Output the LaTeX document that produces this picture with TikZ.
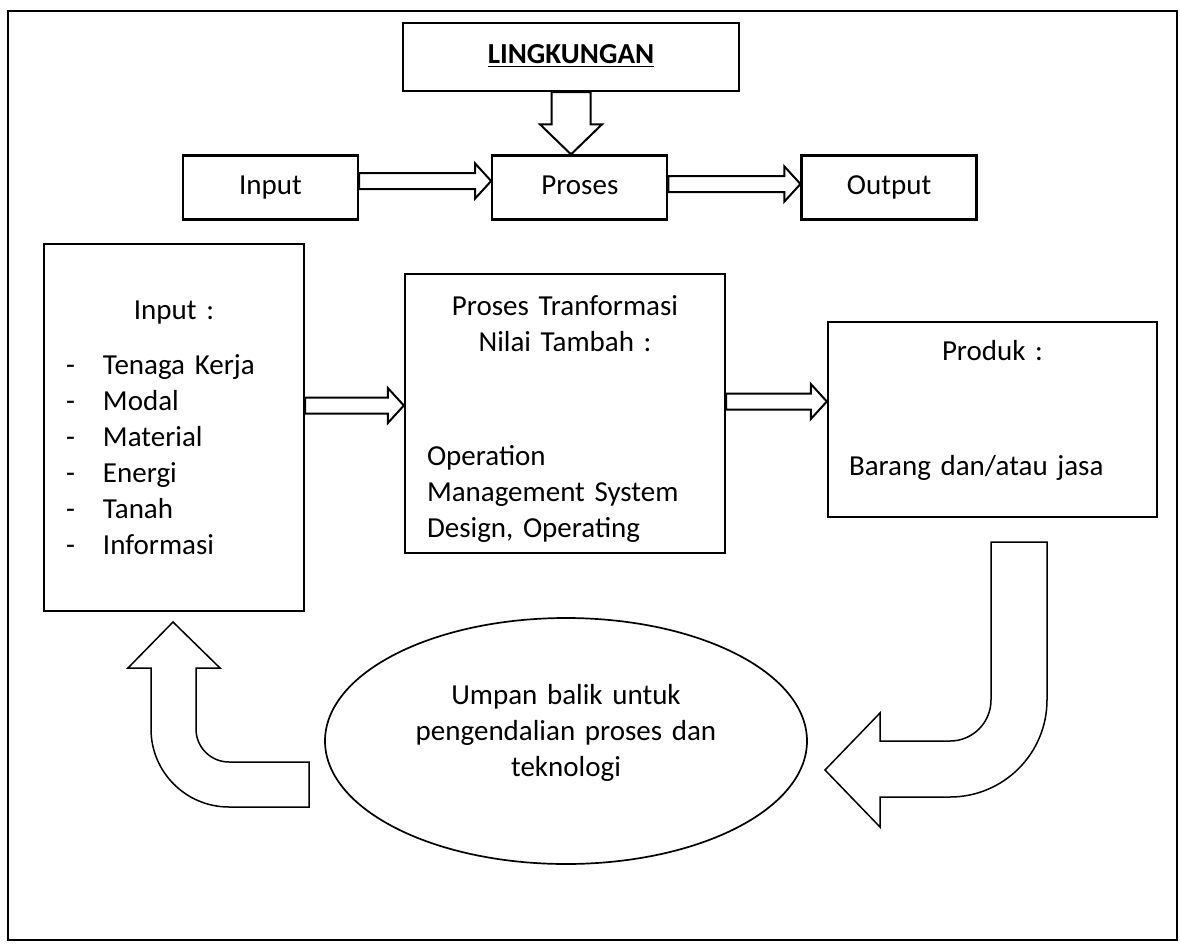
\documentclass[tikz,border=0pt]{standalone}
\usepackage{fontspec}
\setmainfont{Carlito}
\usepackage{tikz}
\usetikzlibrary{shapes,arrows,positioning,calc}

\newcommand{\hollowarrow}[3]{%
  \coordinate (ha-tail) at (#1.east |- 0,#3);
  \coordinate (ha-tip) at (#2.west |- 0,#3);
  \draw[hollow] ($(ha-tail)+(0,-8)$) -- ($(ha-tip)+(-16,-8)$) -- ($(ha-tip)+(-16,-17.5)$) -- (ha-tip)
    -- ($(ha-tip)+(-16,17.5)$) -- ($(ha-tip)+(-16,8)$) -- ($(ha-tail)+(0,8)$) -- cycle;
}

\begin{document}
\begin{tikzpicture}[
    x=0.5pt, y=-0.5pt,
    node distance=66pt,
    txt/.style={font=\fontsize{14.5}{18}\selectfont},
    box/.style={rectangle, draw, line width=1.15pt, inner sep=0pt, txt},
    smallbox/.style={box, minimum width=87.5pt, minimum height=32pt, text height=0.85em, text depth=0.2em},
    hollow/.style={draw, fill=white, line width=1pt, line join=miter},
    bent/.style={draw, fill=white, line width=0.75pt},
    loopnode/.style={ellipse, draw, line width=0.85pt, minimum width=241pt, minimum height=123pt, inner sep=0pt, text width=170pt, align=center, txt}
]
    \useasboundingbox (0,0) rectangle (1180,944);
    \draw[line width=1.15pt] (8,11) rectangle (1177,940);

    \node[smallbox, minimum width=168pt, minimum height=34pt] (ling) at (571,57) {\textbf{\underline{LINGKUNGAN}}};
    \node[smallbox] (input) at (270.5,187.5) {Input};
    \node[smallbox, right=of input] (proses) {Proses};
    \node[smallbox, right=of proses] (output) {Output};

    \node[box, minimum width=130pt, minimum height=183.5pt, text width=108pt, align=left] (inbox) at (174,427.5) {%
        \makebox[108pt]{Input :}\\[9.5pt]
        \makebox[18.5pt][l]{-}Tenaga Kerja\\
        \makebox[18.5pt][l]{-}Modal\\
        \makebox[18.5pt][l]{-}Material\\
        \makebox[18.5pt][l]{-}Energi\\
        \makebox[18.5pt][l]{-}Tanah\\
        \makebox[18.5pt][l]{-}Informasi};
    \node[box, minimum width=160pt, minimum height=139.5pt, text width=138pt, align=left] (transf) at (565,413.5) {%
        \mbox{}\\[-2.5pt]
        \makebox[138pt]{Proses Tranformasi}\\
        \makebox[138pt]{Nilai Tambah :}\\[39pt]
        Operation\\
        Management System\\
        Design, Operating};
    \node[box, minimum width=164.5pt, minimum height=97.5pt, text width=143.5pt, align=left] (produk) at (992.5,419.5) {%
        \makebox[143.5pt]{Produk :}\\[39.5pt]
        Barang dan/atau jasa\\[-6pt]\mbox{}};
    \node[loopnode] (umpan) at (566,741) {Umpan balik untuk\\ pengendalian proses dan\\ teknologi\\[-7.5pt]\mbox{}};

    \coordinate (ling-tip) at (ling.south |- proses.north);
    \draw[hollow] ($(ling.south)+(-19.5,0)$) -- ($(ling-tip)+(-19.5,-30)$) -- ($(ling-tip)+(-31,-30)$) -- (ling-tip)
        -- ($(ling-tip)+(31,-30)$) -- ($(ling-tip)+(19.5,-30)$) -- ($(ling.south)+(19.5,0)$) -- cycle;

    \hollowarrow{input}{proses}{181}
    \hollowarrow{proses}{output}{184}
    \hollowarrow{inbox}{transf}{405.5}
    \hollowarrow{transf}{produk}{401.5}

    % feedback loop
    \draw[bent] (991,542) -- (991,700) arc[start angle=0, end angle=90, radius=41] -- (880,741) -- (880,713) -- (825,770)
        -- (880,827) -- (880,797) -- (950,797) arc[start angle=90, end angle=0, radius=97] -- (1047,542) -- cycle;
    \draw[bent] (173,622) -- (220,668) -- (196,668) -- (196,729) arc[start angle=180, end angle=90, radius=33] -- (309,762)
        -- (309,807) -- (229,807) arc[start angle=90, end angle=180, radius=78] -- (151,668) -- (128,668) -- cycle;
\end{tikzpicture}
\end{document}
